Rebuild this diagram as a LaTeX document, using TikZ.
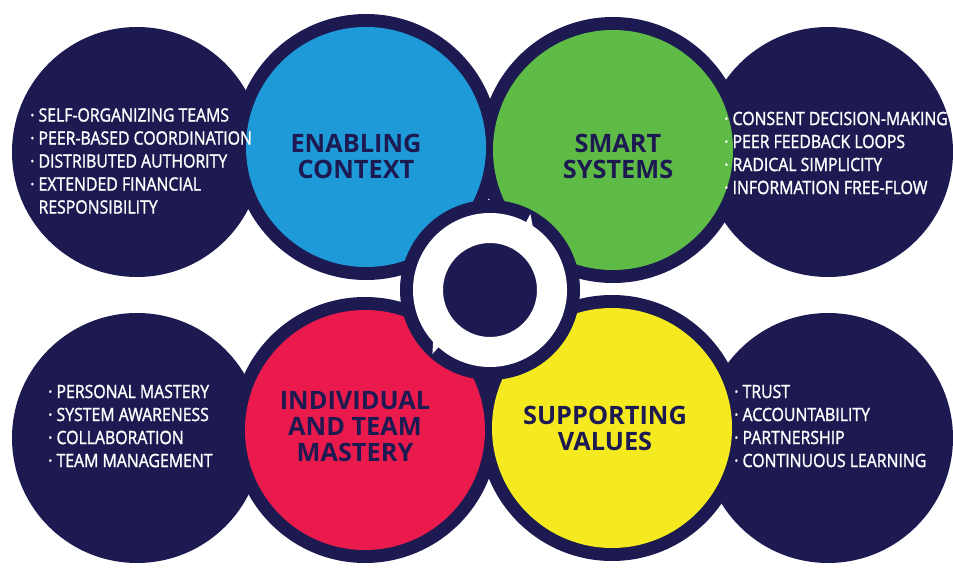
\documentclass[tikz,border=0pt]{standalone}
\usepackage{fontspec}
\setmainfont{Open Sans}
\newfontfamily\listfont[FakeStretch=0.86,FakeBold=1.4]{Open Sans}
\definecolor{navy}{HTML}{1D1A52}
\definecolor{cblue}{HTML}{1E9AD8}
\definecolor{cgreen}{HTML}{5DBB46}
\definecolor{cred}{HTML}{EB1A4D}
\definecolor{cyellow}{HTML}{F4EA1F}
\begin{document}
\begin{tikzpicture}[x=0.75pt,y=-0.75pt,
    title/.style={text=navy,font=\fontsize{19}{19.5}\selectfont\bfseries,align=center},
    items/.style={text=white,font=\listfont\fontsize{13.8}{17.25}\selectfont,align=left,anchor=west,inner sep=0pt}]
  \useasboundingbox (0,0) rectangle (953,573);
  % outer circles
  \fill[navy]
    (137,152) circle (125)
    (828,152) circle (125)
    (137,438) circle (125)
    (828,438) circle (125);
  % coloured circles
  \coordinate (c1) at (366,147);
  \coordinate (c2) at (613,150);
  \coordinate (c3) at (365,430);
  \coordinate (c4) at (612,428);
  \fill[navy] (c1) circle (133) (c2) circle (133) (c3) circle (133) (c4) circle (133);
  \fill[cblue] (c1) circle (120);
  \fill[cgreen] (c2) circle (120);
  \fill[cred] (c3) circle (120);
  \fill[cyellow] (c4) circle (120);
  % cycle in the middle
  \coordinate (hub) at (490,290);
  \fill[navy] (hub) circle (90);
  \begin{scope}[shift={(hub)},yscale=-1]
    \fill[white,even odd rule] (0,0) circle (76) (0,0) circle (48);
    \fill[white] (228:77) arc[start angle=228,end angle=62,radius=77] -- (62:86) -- (40:62)
      -- (62:47) arc[start angle=62,end angle=228,radius=47] -- (206:62) -- cycle;
    \fill[white] (62:77) arc[start angle=62,end angle=-132,radius=77] -- (-132:86) -- (-154:62)
      -- (-132:47) arc[start angle=-132,end angle=62,radius=47] -- (40:62) -- cycle;
  \end{scope}
  % titles
  \node[title] (context) at (356,156) {ENABLING\\CONTEXT};
  \node[title] (systems) at (618,156) {SMART\\SYSTEMS};
  \node[title] (mastery) at (355,427) {INDIVIDUAL\\AND TEAM\\MASTERY};
  \node[title] (values) at (605,428) {SUPPORTING\\VALUES};
  % lists
  \node[items] (contextlist) at (30,161) {· SELF-ORGANIZING TEAMS\\· PEER-BASED COORDINATION\\
    · DISTRIBUTED AUTHORITY\\· EXTENDED FINANCIAL\\\phantom{· }RESPONSIBILITY};
  \node[items] (systemslist) at (724,153) {· CONSENT DECISION-MAKING\\· PEER FEEDBACK LOOPS\\
    · RADICAL SIMPLICITY\\· INFORMATION FREE-FLOW};
  \node[items] (masterylist) at (48,426) {· PERSONAL MASTERY\\· SYSTEM AWARENESS\\
    · COLLABORATION\\· TEAM MANAGEMENT};
  \node[items] (valueslist) at (734,426) {· TRUST\\· ACCOUNTABILITY\\
    · PARTNERSHIP\\· CONTINUOUS LEARNING};
\end{tikzpicture}
\end{document}
